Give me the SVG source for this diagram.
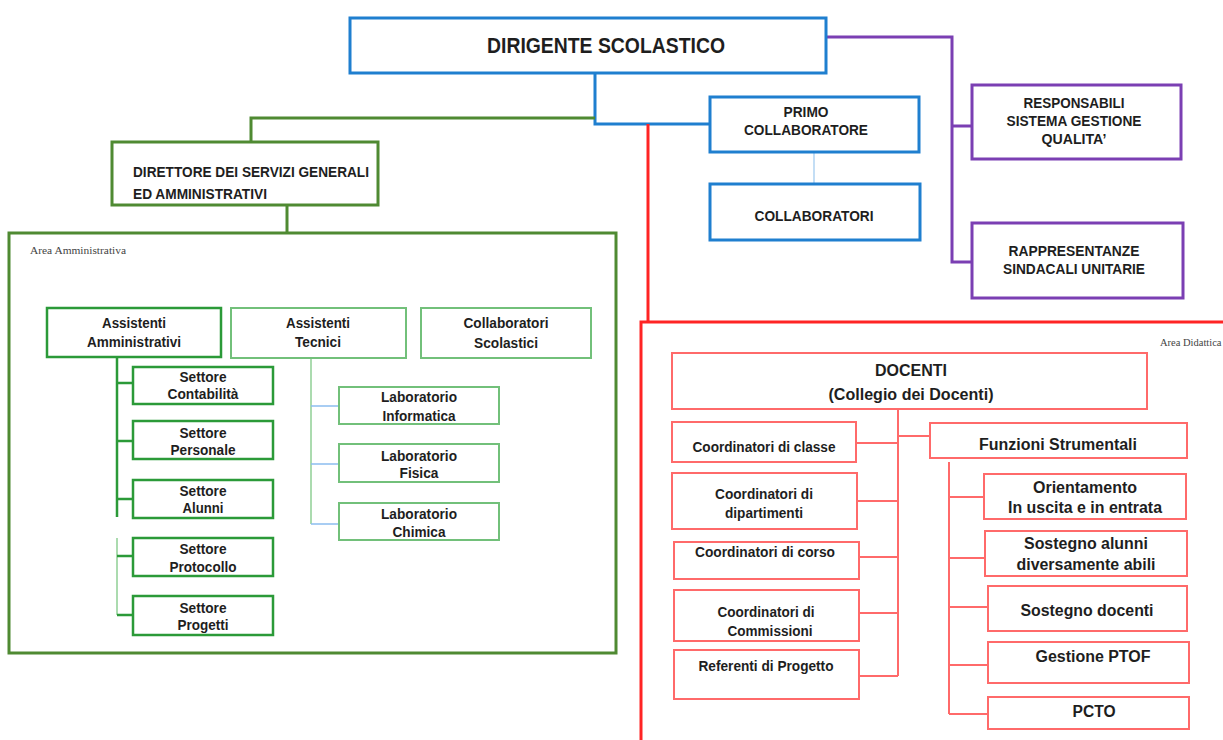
<svg xmlns="http://www.w3.org/2000/svg" width="1223" height="740" viewBox="0 0 1223 740">
<style>
.t{font-family:"Liberation Sans",Arial,sans-serif;font-weight:bold;fill:#1e1e1e;text-anchor:middle}
.s{font-family:"Liberation Serif","Times New Roman",serif;fill:#444;font-size:10.5px}
.blue{fill:#fff;stroke:#1f7fcf;stroke-width:3}
.purple{fill:#fff;stroke:#7b3fb3;stroke-width:3}
.dg{fill:#fff;stroke:#4f8a32;stroke-width:3}
.frame{fill:none;stroke:#4f8a32;stroke-width:3}
.mg{fill:#fff;stroke:#2b9a38;stroke-width:2.5}
.lg{fill:#fff;stroke:#72c07a;stroke-width:2}
.red{fill:#fff;stroke:#ff6a6a;stroke-width:2}
.area{fill:none;stroke:#ff2424;stroke-width:3}
</style>
<rect width="1223" height="740" fill="#fff"/>
<g id="area-amministrativa">
<rect x="9" y="233" width="607" height="420" class="frame"/>
<text x="30" y="254" class="s" textLength="96" lengthAdjust="spacingAndGlyphs">Area Amministrativa</text>
</g>
<g id="area-didattica">
<rect x="641" y="322" width="600" height="430" class="area"/>
<text x="1160" y="346" class="s">Area Didattica</text>
</g>
<g id="connectors" fill="none">
<path d="M595 74V124H710" stroke="#1f7fcf" stroke-width="3"/>
<path d="M595 118H251V142" stroke="#4f8a32" stroke-width="3"/>
<path d="M287 205V233" stroke="#4f8a32" stroke-width="3"/>
<path d="M814 152V184" stroke="#9cc8ee" stroke-width="1.2"/>
<path d="M826 37H952V262H972M952 126H972" stroke="#7b3fb3" stroke-width="3"/>
<path d="M648 124V322" stroke="#ff2424" stroke-width="3"/>
<path d="M117 357V517M117 383H133M117 441H133M117 499H133" stroke="#2b9a38" stroke-width="2.5"/>
<path d="M117 538V615" stroke="#8fcf95" stroke-width="1.5"/>
<path d="M117 556H133M117 615H133" stroke="#2b9a38" stroke-width="2.5"/>
<path d="M311 358V524" stroke="#8fcf95" stroke-width="1.5"/>
<path d="M311 406H339M311 464H339M311 524H339" stroke="#8cbdf0" stroke-width="1.5"/>
<path d="M898 409V676M898 436H930M856 443H898M857 501H898M859 557H898M859 613H898M859 676H898" stroke="#ff6a6a" stroke-width="2"/>
<path d="M949 462V714M949 497H984M949 558H985M949 607H988M949 665H988M949 714H988" stroke="#ff6a6a" stroke-width="2"/>
</g>
<g id="dirigente">
<rect x="350" y="18" width="476" height="55" class="blue"/>
<text x="606" y="53" class="t" font-size="22" textLength="238" lengthAdjust="spacingAndGlyphs">DIRIGENTE SCOLASTICO</text>
</g>
<g id="primo-collaboratore">
<rect x="710" y="97" width="209" height="55" class="blue"/>
<text x="806" y="117" class="t" font-size="14" textLength="45" lengthAdjust="spacingAndGlyphs">PRIMO</text>
<text x="806" y="135" class="t" font-size="14" textLength="124" lengthAdjust="spacingAndGlyphs">COLLABORATORE</text>
</g>
<g id="collaboratori">
<rect x="710" y="184" width="210" height="56" class="blue"/>
<text x="814" y="221" class="t" font-size="14" textLength="119" lengthAdjust="spacingAndGlyphs">COLLABORATORI</text>
</g>
<g id="responsabili">
<rect x="972" y="85" width="209" height="74" class="purple"/>
<text x="1074" y="108" class="t" font-size="14" textLength="101" lengthAdjust="spacingAndGlyphs">RESPONSABILI</text>
<text x="1074" y="126" class="t" font-size="14" textLength="135" lengthAdjust="spacingAndGlyphs">SISTEMA GESTIONE</text>
<text x="1074" y="144" class="t" font-size="14" textLength="65" lengthAdjust="spacingAndGlyphs">QUALITA’</text>
</g>
<g id="rappresentanze">
<rect x="972" y="223" width="211" height="75" class="purple"/>
<text x="1074" y="256" class="t" font-size="14" textLength="131" lengthAdjust="spacingAndGlyphs">RAPPRESENTANZE</text>
<text x="1074" y="274" class="t" font-size="14" textLength="142" lengthAdjust="spacingAndGlyphs">SINDACALI UNITARIE</text>
</g>
<g id="dsga">
<rect x="112" y="142" width="266" height="63" class="dg"/>
<text x="133" y="177" class="t" font-size="15" style="text-anchor:start" textLength="236" lengthAdjust="spacingAndGlyphs">DIRETTORE DEI SERVIZI GENERALI</text>
<text x="133" y="199" class="t" font-size="15" style="text-anchor:start" textLength="134" lengthAdjust="spacingAndGlyphs">ED AMMINISTRATIVI</text>
</g>
<g id="assistenti-amministrativi">
<rect x="47" y="308" width="174" height="49" class="mg"/>
<text x="134" y="328" class="t" font-size="14" textLength="64" lengthAdjust="spacingAndGlyphs">Assistenti</text>
<text x="134" y="347" class="t" font-size="14" textLength="94" lengthAdjust="spacingAndGlyphs">Amministrativi</text>
</g>
<g id="assistenti-tecnici">
<rect x="231" y="308" width="175" height="50" class="lg"/>
<text x="318" y="328" class="t" font-size="14" textLength="64" lengthAdjust="spacingAndGlyphs">Assistenti</text>
<text x="318" y="347" class="t" font-size="14" textLength="46" lengthAdjust="spacingAndGlyphs">Tecnici</text>
</g>
<g id="collaboratori-scolastici">
<rect x="421" y="308" width="170" height="50" class="lg"/>
<text x="506" y="328" class="t" font-size="14" textLength="85" lengthAdjust="spacingAndGlyphs">Collaboratori</text>
<text x="506" y="348" class="t" font-size="14" textLength="64" lengthAdjust="spacingAndGlyphs">Scolastici</text>
</g>
<g id="settore-contabilita">
<rect x="133" y="367" width="140" height="37" class="mg"/>
<text x="203" y="382" class="t" font-size="14" textLength="47" lengthAdjust="spacingAndGlyphs">Settore</text>
<text x="203" y="399" class="t" font-size="14" textLength="71" lengthAdjust="spacingAndGlyphs">Contabilità</text>
</g>
<g id="settore-personale">
<rect x="133" y="421" width="140" height="38" class="mg"/>
<text x="203" y="438" class="t" font-size="14" textLength="47" lengthAdjust="spacingAndGlyphs">Settore</text>
<text x="203" y="455" class="t" font-size="14" textLength="65" lengthAdjust="spacingAndGlyphs">Personale</text>
</g>
<g id="settore-alunni">
<rect x="133" y="480" width="140" height="38" class="mg"/>
<text x="203" y="496" class="t" font-size="14" textLength="47" lengthAdjust="spacingAndGlyphs">Settore</text>
<text x="203" y="513" class="t" font-size="14" textLength="41" lengthAdjust="spacingAndGlyphs">Alunni</text>
</g>
<g id="settore-protocollo">
<rect x="133" y="538" width="140" height="38" class="mg"/>
<text x="203" y="554" class="t" font-size="14" textLength="47" lengthAdjust="spacingAndGlyphs">Settore</text>
<text x="203" y="572" class="t" font-size="14" textLength="67" lengthAdjust="spacingAndGlyphs">Protocollo</text>
</g>
<g id="settore-progetti">
<rect x="133" y="596" width="140" height="39" class="mg"/>
<text x="203" y="613" class="t" font-size="14" textLength="47" lengthAdjust="spacingAndGlyphs">Settore</text>
<text x="203" y="630" class="t" font-size="14" textLength="51" lengthAdjust="spacingAndGlyphs">Progetti</text>
</g>
<g id="lab-informatica">
<rect x="339" y="387" width="160" height="37" class="lg"/>
<text x="419" y="402" class="t" font-size="14" textLength="76" lengthAdjust="spacingAndGlyphs">Laboratorio</text>
<text x="419" y="421" class="t" font-size="14" textLength="73" lengthAdjust="spacingAndGlyphs">Informatica</text>
</g>
<g id="lab-fisica">
<rect x="339" y="444" width="160" height="38" class="lg"/>
<text x="419" y="461" class="t" font-size="14" textLength="76" lengthAdjust="spacingAndGlyphs">Laboratorio</text>
<text x="419" y="478" class="t" font-size="14" textLength="39" lengthAdjust="spacingAndGlyphs">Fisica</text>
</g>
<g id="lab-chimica">
<rect x="339" y="503" width="160" height="37" class="lg"/>
<text x="419" y="519" class="t" font-size="14" textLength="76" lengthAdjust="spacingAndGlyphs">Laboratorio</text>
<text x="419" y="537" class="t" font-size="14" textLength="53" lengthAdjust="spacingAndGlyphs">Chimica</text>
</g>
<g id="docenti">
<rect x="672" y="353" width="475" height="56" class="red"/>
<text x="911" y="376" class="t" font-size="16" textLength="72" lengthAdjust="spacingAndGlyphs">DOCENTI</text>
<text x="911" y="400" class="t" font-size="16" textLength="165" lengthAdjust="spacingAndGlyphs">(Collegio dei Docenti)</text>
</g>
<g id="funzioni-strumentali">
<rect x="930" y="423" width="257" height="35" class="red"/>
<text x="1058" y="450" class="t" font-size="16" textLength="158" lengthAdjust="spacingAndGlyphs">Funzioni Strumentali</text>
</g>
<g id="coordinatori-classe">
<rect x="672" y="422" width="184" height="40" class="red"/>
<text x="764" y="452" class="t" font-size="14" textLength="143" lengthAdjust="spacingAndGlyphs">Coordinatori di classe</text>
</g>
<g id="coordinatori-dipartimenti">
<rect x="672" y="473" width="185" height="56" class="red"/>
<text x="764" y="499" class="t" font-size="14" textLength="98" lengthAdjust="spacingAndGlyphs">Coordinatori di</text>
<text x="764" y="518" class="t" font-size="14" textLength="78" lengthAdjust="spacingAndGlyphs">dipartimenti</text>
</g>
<g id="coordinatori-corso">
<rect x="674" y="542" width="185" height="37" class="red"/>
<text x="765" y="557" class="t" font-size="14" textLength="140" lengthAdjust="spacingAndGlyphs">Coordinatori di corso</text>
</g>
<g id="coordinatori-commissioni">
<rect x="674" y="590" width="185" height="51" class="red"/>
<text x="766" y="617" class="t" font-size="14" textLength="97" lengthAdjust="spacingAndGlyphs">Coordinatori di</text>
<text x="770" y="636" class="t" font-size="14" textLength="85" lengthAdjust="spacingAndGlyphs">Commissioni</text>
</g>
<g id="referenti-progetto">
<rect x="674" y="650" width="185" height="49" class="red"/>
<text x="766" y="671" class="t" font-size="14" textLength="135" lengthAdjust="spacingAndGlyphs">Referenti di Progetto</text>
</g>
<g id="orientamento">
<rect x="984" y="474" width="202" height="45" class="red"/>
<text x="1085" y="493" class="t" font-size="16" textLength="104" lengthAdjust="spacingAndGlyphs">Orientamento</text>
<text x="1085" y="513" class="t" font-size="16" textLength="154" lengthAdjust="spacingAndGlyphs">In uscita e in entrata</text>
</g>
<g id="sostegno-alunni">
<rect x="985" y="531" width="202" height="45" class="red"/>
<text x="1086" y="549" class="t" font-size="16" textLength="124" lengthAdjust="spacingAndGlyphs">Sostegno alunni</text>
<text x="1086" y="570" class="t" font-size="16" textLength="139" lengthAdjust="spacingAndGlyphs">diversamente abili</text>
</g>
<g id="sostegno-docenti">
<rect x="988" y="586" width="199" height="45" class="red"/>
<text x="1087" y="616" class="t" font-size="16" textLength="133" lengthAdjust="spacingAndGlyphs">Sostegno docenti</text>
</g>
<g id="gestione-ptof">
<rect x="988" y="642" width="201" height="41" class="red"/>
<text x="1093" y="662" class="t" font-size="16" textLength="115" lengthAdjust="spacingAndGlyphs">Gestione PTOF</text>
</g>
<g id="pcto">
<rect x="988" y="697" width="201" height="32" class="red"/>
<text x="1094" y="717" class="t" font-size="16" textLength="43" lengthAdjust="spacingAndGlyphs">PCTO</text>
</g>
</svg>
